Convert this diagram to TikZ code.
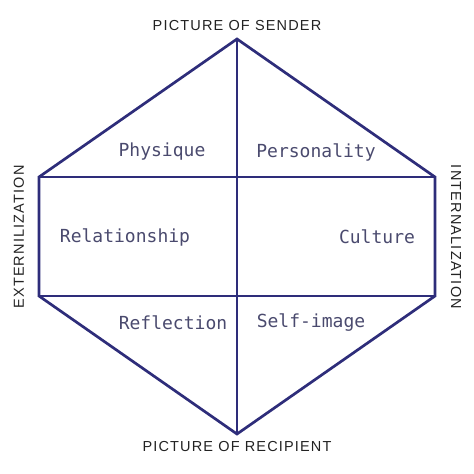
\documentclass[tikz,border=0pt]{standalone}
\usepackage{fontspec}
\setmainfont{Liberation Sans}
\newfontfamily\labelfont[LetterSpace=8]{Liberation Sans}
\newfontfamily\cellfont{DejaVu Sans Mono}
\definecolor{navy}{HTML}{2E2D7A}
\definecolor{cellgray}{HTML}{4A4A6E}
\definecolor{outergray}{HTML}{222222}

\begin{document}
\begin{tikzpicture}[x=1pt,y=-1pt,
  edge/.style={draw=navy,line width=2.7pt,line join=miter},
  cell/.style={text=cellgray,font=\cellfont\fontsize{18}{20}\selectfont,inner sep=0pt},
  outer/.style={text=outergray,font=\labelfont\fontsize{14.5}{16}\selectfont,inner sep=0pt}]
  \useasboundingbox (0,0) rectangle (474,474);
  \coordinate (S) at (237,39);
  \coordinate (R) at (237,434);
  \coordinate (UL) at (39,177);
  \coordinate (UR) at (435,177);
  \coordinate (LL) at (39,296);
  \coordinate (LR) at (435,296);
  \coordinate (UM) at (237,177);
  \coordinate (LM) at (237,296);
  \draw[edge] (S) -- (UR) -- (LR) -- (R) -- (LL) -- (UL) -- cycle;
  \draw[edge] (UL) -- (UR);
  \draw[edge] (LL) -- (LR);
  \draw[edge] (S) -- (R);
  \node[outer] (sender) at (237,26) {PICTURE OF SENDER};
  \node[outer] (recipient) at (237,447) {PICTURE OF RECIPIENT};
  \node[outer,rotate=90] (ext) at (19,237) {EXTERNILIZATION};
  \node[outer,rotate=-90] (int) at (456,237) {INTERNALIZATION};
  \node[cell] (physique) at (162,152) {Physique};
  \node[cell] (personality) at (316,152) {Personality};
  \node[cell] (relationship) at (125,237) {Relationship};
  \node[cell] (culture) at (377,237) {Culture};
  \node[cell] (reflection) at (173,323) {Reflection};
  \node[cell] (selfimage) at (311,323) {Self-image};
\end{tikzpicture}
\end{document}
